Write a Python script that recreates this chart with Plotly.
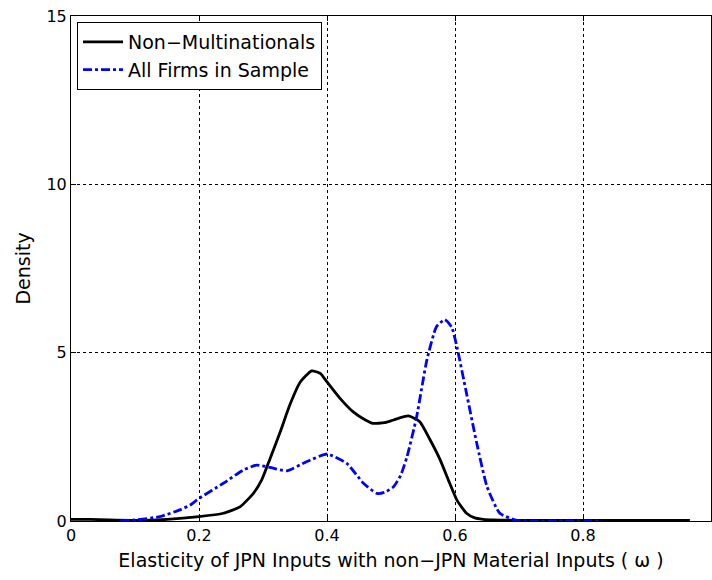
import plotly.graph_objects as go

# Non-Multinationals density
x_non = [0.0, 0.03, 0.06, 0.10, 0.15, 0.20, 0.238, 0.264, 0.285, 0.298, 0.311, 0.327, 0.342, 0.358,
         0.376, 0.39, 0.40, 0.42, 0.441, 0.46, 0.472, 0.49, 0.504, 0.527, 0.545, 0.56, 0.577, 0.59,
         0.603, 0.618, 0.63, 0.644, 0.66, 0.70, 0.80, 0.90, 0.967]
y_non = [0.05, 0.05, 0.03, 0.02, 0.05, 0.13, 0.23, 0.42, 0.82, 1.22, 1.85, 2.65, 3.45, 4.12,
         4.46, 4.38, 4.13, 3.65, 3.24, 3.00, 2.90, 2.92, 3.00, 3.12, 2.95, 2.45, 1.81, 1.20,
         0.62, 0.23, 0.10, 0.05, 0.03, 0.02, 0.02, 0.02, 0.02]

# All Firms in Sample density
x_all = [0.077, 0.10, 0.139, 0.17, 0.186, 0.20, 0.238, 0.269, 0.29, 0.311, 0.337, 0.368, 0.40, 0.431,
         0.457, 0.478, 0.49, 0.504, 0.515, 0.525, 0.54, 0.556, 0.571, 0.584, 0.595, 0.603,
         0.618, 0.634, 0.65, 0.67, 0.696, 0.72, 0.76, 0.83]
y_all = [0.0, 0.03, 0.13, 0.33, 0.47, 0.67, 1.12, 1.51, 1.66, 1.59, 1.49, 1.76, 1.99, 1.71,
         1.12, 0.82, 0.85, 1.02, 1.35, 1.91, 3.09, 4.78, 5.77, 5.98, 5.75, 5.17,
         3.79, 2.31, 1.02, 0.23, 0.02, 0.0, 0.0, 0.0]

x_ticks = [0, 0.2, 0.4, 0.6, 0.8, 1]
x_tick_labels = ["0", "0.2", "0.4", "0.6", "0.8", "1"]
y_ticks = [0, 5, 10, 15]
y_tick_labels = ["0", "5", "10", "15"]

font_family = "DejaVu Sans, Liberation Sans, sans-serif"

fig = go.Figure()
fig.add_trace(go.Scatter(x=x_non, y=y_non, mode="lines", name="Non\u2212Multinationals",
                         line=dict(color="black", width=2.8, shape="spline", smoothing=0.5)))
fig.add_trace(go.Scatter(x=x_all, y=y_all, mode="lines", name="All Firms in Sample",
                         line=dict(color="#0000ff", width=2.8, dash="dashdot", shape="spline", smoothing=0.5)))

axis_common = dict(
    showline=True, linecolor="black", linewidth=1, mirror="ticks",
    ticks="inside", ticklen=5, tickcolor="black",
    showgrid=True, gridcolor="black", gridwidth=1, griddash="dot",
    zeroline=False, tickfont=dict(family=font_family, size=16, color="black"),
)

fig.update_xaxes(range=[0, 1], tickvals=x_ticks, ticktext=x_tick_labels,
                 title=dict(text="Elasticity of JPN Inputs with non\u2212JPN Material Inputs ( \u03c9 )",
                            font=dict(family=font_family, size=19, color="black"), standoff=9),
                 **axis_common)
fig.update_yaxes(range=[0, 15], tickvals=y_ticks, ticktext=y_tick_labels,
                 title=dict(text="Density", font=dict(family=font_family, size=19, color="black"), standoff=10),
                 **axis_common)

fig.update_layout(
    width=712, height=580,
    margin=dict(l=71, r=1, t=16, b=59),
    paper_bgcolor="white", plot_bgcolor="white",
    showlegend=True,
    legend=dict(x=0.0094, y=0.988, xanchor="left", yanchor="top",
                bordercolor="black", borderwidth=1, bgcolor="white",
                font=dict(family=font_family, size=19, color="black"),
                tracegroupgap=0, itemwidth=40),
    font=dict(family=font_family, color="black"),
)

fig.write_html("out.html")
